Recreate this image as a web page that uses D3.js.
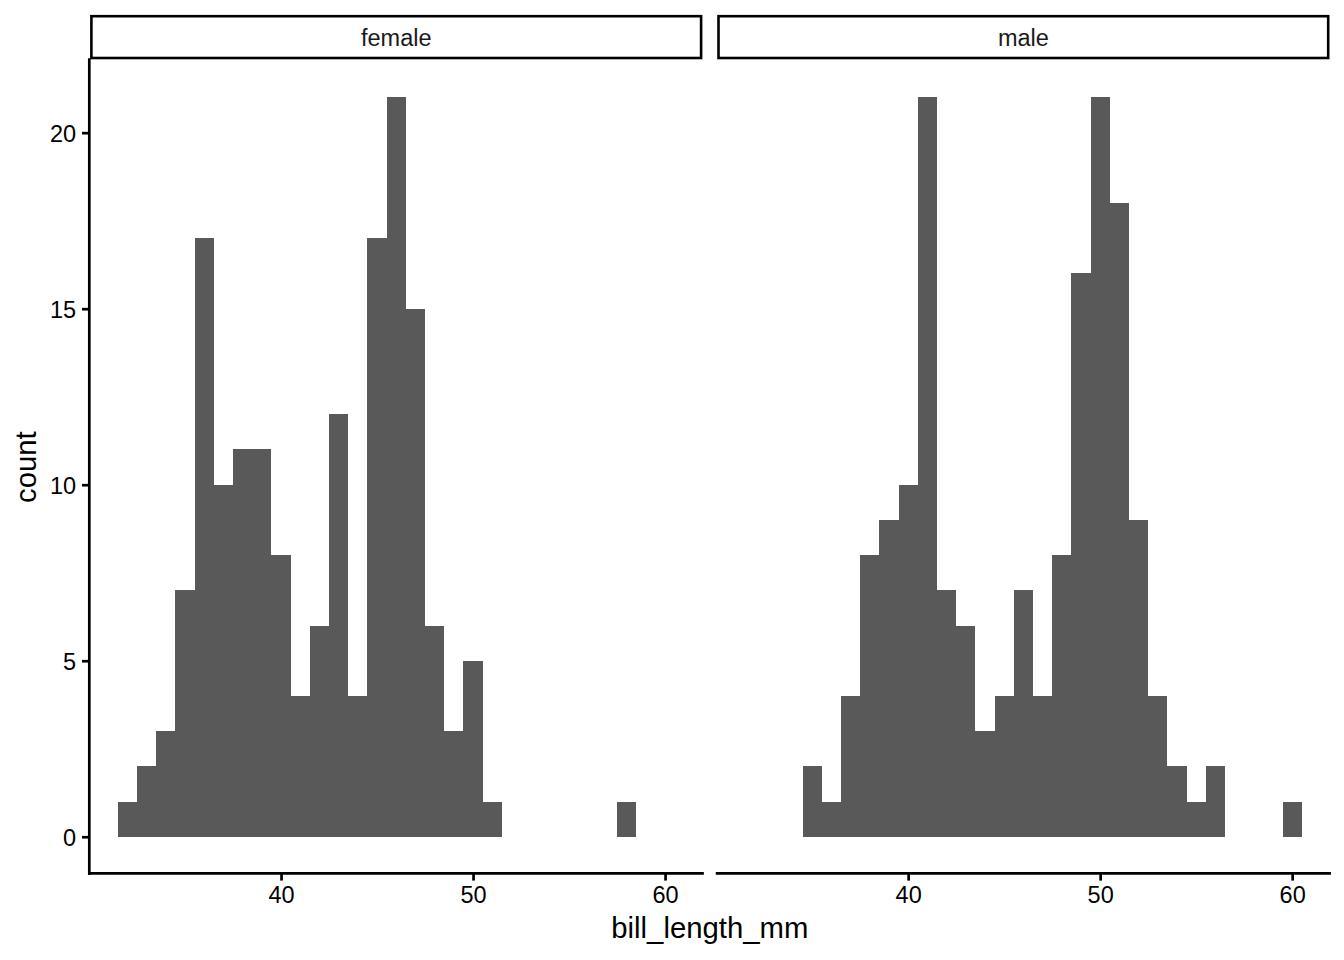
<!DOCTYPE html>
<html>
<head>
<meta charset="utf-8">
<script src="https://cdn.jsdelivr.net/npm/d3@7"></script>
<style>
  html, body { margin: 0; padding: 0; background: #fff; }
  svg { display: block; font-family: "Liberation Sans", Arial, Helvetica, sans-serif; }
</style>
</head>
<body>
<svg id="chart" width="1344" height="960"></svg>
<script>
// ---- data (bin centres, binwidth = 1 mm) ----
const facets = ["female", "male"];
const femaleCenters = [32, 33, 34, 35, 36, 37, 38, 39, 40, 41, 42, 43, 44, 45, 46, 47, 48, 49, 50, 51, 58];
const femaleCounts  = [ 1,  2,  3,  7, 17, 10, 11, 11,  8,  4,  6, 12,  4, 17, 21, 15,  6,  3,  5,  1,  1];
const maleCenters = [35, 36, 37, 38, 39, 40, 41, 42, 43, 44, 45, 46, 47, 48, 49, 50, 51, 52, 53, 54, 55, 56, 60];
const maleCounts  = [ 2,  1,  4,  8,  9, 10, 21,  7,  6,  3,  4,  7,  4,  8, 16, 21, 18,  9,  4,  2,  1,  2,  1];
const binWidth = 1;
const xTicks = [40, 50, 60];
const yTicks = [0, 5, 10, 15, 20];
const xTitle = "bill_length_mm";
const yTitle = "count";

// ---- layout ----
const W = 1344, H = 960;
const panelTop = 60.5, panelBottom = 873.7;
const panels = [
  { name: facets[0], x0: 90, x1: 702.5, centers: femaleCenters, counts: femaleCounts },
  { name: facets[1], x0: 717.1, x1: 1329.6, centers: maleCenters, counts: maleCounts }
];
const stripTop = 16.2, stripBottom = 58;
const lineW = 2.7;
const tickLen = 7.3;
const fill = "#595959";

const svg = d3.select("#chart");
svg.append("rect").attr("width", W).attr("height", H).attr("fill", "#fff");

// shared domains with ggplot-style 5% expansion
const allEdges = [];
panels.forEach(p => p.centers.forEach(c => { allEdges.push(c - binWidth / 2, c + binWidth / 2); }));
const xmin = d3.min(allEdges), xmax = d3.max(allEdges);
const xpad = (xmax - xmin) * 0.05;
const ymax = d3.max(panels.flatMap(p => p.counts));
const ypad = ymax * 0.05;

const y = d3.scaleLinear().domain([-ypad, ymax + ypad]).range([panelBottom, panelTop]);

panels.forEach((p, i) => {
  const x = d3.scaleLinear().domain([xmin - xpad, xmax + xpad]).range([p.x0, p.x1]);
  const g = svg.append("g");

  // bars
  const data = p.centers.map((c, k) => ({ c, n: p.counts[k] }));
  g.selectAll("rect.bar").data(data).enter().append("rect")
    .attr("class", "bar")
    .attr("x", d => x(d.c - binWidth / 2))
    .attr("width", d => x(d.c + binWidth / 2) - x(d.c - binWidth / 2))
    .attr("y", d => y(d.n))
    .attr("height", d => y(0) - y(d.n))
    .attr("fill", fill)
    .attr("shape-rendering", "crispEdges");

  // strip
  const pw = p.x1 - p.x0;
  g.append("rect")
    .attr("x", p.x0 + 1.4).attr("y", stripTop)
    .attr("width", pw - 2.8).attr("height", stripBottom - stripTop)
    .attr("fill", "#fff").attr("stroke", "#000").attr("stroke-width", 2.6);
  g.append("text")
    .attr("x", (p.x0 + p.x1) / 2).attr("y", (stripTop + stripBottom) / 2 + 1)
    .attr("dy", "0.35em")
    .attr("text-anchor", "middle")
    .attr("font-size", "23.5px").attr("fill", "#1a1a1a")
    .text(p.name);

  // x axis
  const xAxis = d3.axisBottom(x).tickValues(xTicks).tickSize(tickLen).tickSizeOuter(0).tickPadding(5.9);
  const xa = svg.append("g").attr("transform", `translate(0,${panelBottom - 0.4})`).call(xAxis);
  xa.select(".domain").attr("stroke", "#000").attr("stroke-width", lineW).attr("stroke-linecap", "square")
    .attr("d", `M${p.x0},0H${p.x1}`);
  xa.selectAll(".tick line").attr("stroke", "#000").attr("stroke-width", lineW);
  xa.selectAll(".tick text").attr("fill", "#000").attr("font-size", "23.5px")
    .attr("font-family", "Liberation Sans, Arial, sans-serif")
    .attr("dy", null).attr("y", 30);

  // y axis only on the first panel
  if (i === 0) {
    const yAxis = d3.axisLeft(y).tickValues(yTicks).tickSize(tickLen).tickSizeOuter(0).tickPadding(5.9);
    const ya = svg.append("g").attr("transform", `translate(${p.x0 - 0.7},0)`).call(yAxis);
    ya.select(".domain").attr("stroke", "#000").attr("stroke-width", lineW).attr("stroke-linecap", "square")
      .attr("d", `M0,${panelTop - 1}V${panelBottom}`);
    ya.selectAll(".tick line").attr("stroke", "#000").attr("stroke-width", lineW);
    ya.selectAll(".tick text").attr("fill", "#000").attr("font-size", "23.5px")
      .attr("font-family", "Liberation Sans, Arial, sans-serif")
      .attr("dy", "0.36em");
  }
});

// axis titles
svg.append("text")
  .attr("x", (panels[0].x0 + panels[1].x1) / 2).attr("y", 938.3)
  .attr("text-anchor", "middle").attr("font-size", "29.3px").attr("fill", "#000")
  .text(xTitle);
svg.append("text")
  .attr("transform", `translate(36,${(panelTop + panelBottom) / 2}) rotate(-90)`)
  .attr("text-anchor", "middle").attr("font-size", "29.3px").attr("fill", "#000")
  .text(yTitle);
</script>
</body>
</html>
